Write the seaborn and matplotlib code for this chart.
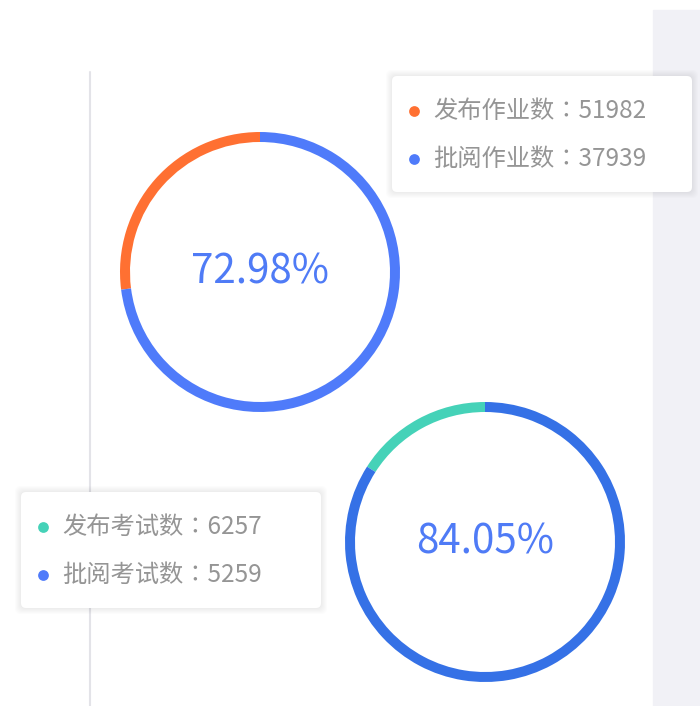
import seaborn as sns
import matplotlib.pyplot as plt
from matplotlib.patches import FancyBboxPatch, Rectangle

# data
hw_labels = ['发布作业数', '批阅作业数']
hw_values = [51982, 37939]
exam_labels = ['发布考试数', '批阅考试数']
exam_values = [6257, 5259]

hw_colors = ['#ff7032', '#4f7bfa']
exam_colors = ['#45d2b8', '#3571e6']

sns.set_theme(style='white')
plt.rcParams['font.family'] = ['Noto Sans CJK SC', 'DejaVu Sans']

W, H = 700, 706
fig = plt.figure(figsize=(W / 100, H / 100), dpi=100)
ax = fig.add_axes([0, 0, 1, 1])
ax.set_xlim(0, W)
ax.set_ylim(0, H)
ax.set_aspect('equal')
ax.axis('off')


def Y(y):
    return H - y


# right gray panel and left divider line
ax.add_patch(Rectangle((653, 0), W - 653, Y(10), color='#f1f1f6', zorder=0))
ax.plot([90, 90], [0, Y(72)], color='#e3e3e8', lw=1.5, zorder=0)


def ring(values, colors, cx, cy, text_color):
    published, reviewed = values
    ax.pie([published - reviewed, reviewed], colors=colors, center=(cx, Y(cy)),
           radius=140, startangle=90, counterclock=True,
           wedgeprops=dict(width=10, linewidth=0), frame=True)
    pct = reviewed / published * 100
    ax.text(cx, Y(cy), f'{pct:.2f}%', ha='center', va='center',
            fontsize=29, color=text_color, zorder=5)


def tooltip(x, y, labels, values, colors):
    w, h = 300, 116
    for i in range(6, 0, -1):
        ax.add_patch(FancyBboxPatch((x - i, Y(y + h) - i), w + 2 * i, h + 2 * i,
                                    boxstyle='round,pad=0,rounding_size=6',
                                    fc='#000000', ec='none', alpha=0.012, zorder=6))
    ax.add_patch(FancyBboxPatch((x, Y(y + h)), w, h,
                                boxstyle='round,pad=0,rounding_size=5',
                                fc='white', ec='none', zorder=7))
    for k, (lab, val, col) in enumerate(zip(labels, values, colors)):
        yy = y + 35 + k * 48
        ax.scatter([x + 22], [Y(yy)], s=60, color=col, zorder=8, linewidths=0)
        ax.text(x + 41, Y(yy), f'{lab}\u2236{val}', ha='left', va='center',
                fontsize=17.5, color='#959595', zorder=8)


ring(hw_values, hw_colors, 260, 272, '#4f7bf6')
ring(exam_values, exam_colors, 485, 542, '#4f7bf6')

ax.set_xlim(0, W)
ax.set_ylim(0, H)
ax.axis('off')

tooltip(392, 76, hw_labels, hw_values, hw_colors)
tooltip(21, 492, exam_labels, exam_values, [exam_colors[0], '#4f7bfa'])

fig.savefig('out.png', dpi=100)
